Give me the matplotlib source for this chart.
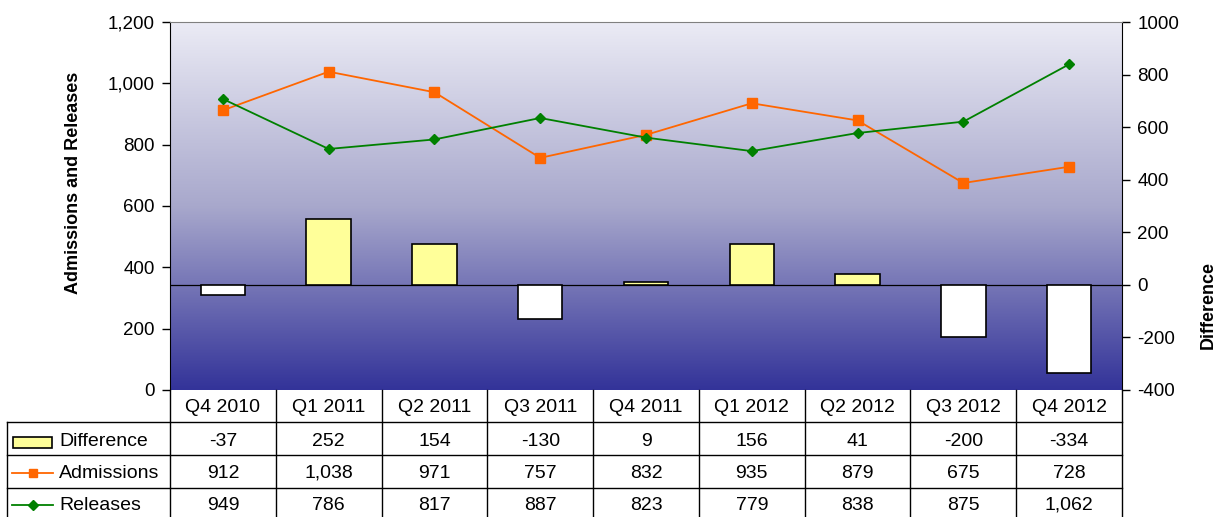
import numpy as np
import matplotlib
matplotlib.use("Agg")
import matplotlib.pyplot as plt
from matplotlib.colors import LinearSegmentedColormap
from matplotlib.patches import Rectangle
from matplotlib.lines import Line2D

plt.rcParams['font.family'] = ['Liberation Sans', 'DejaVu Sans']
plt.rcParams['axes.unicode_minus'] = False

categories = ["Q4 2010", "Q1 2011", "Q2 2011", "Q3 2011", "Q4 2011",
              "Q1 2012", "Q2 2012", "Q3 2012", "Q4 2012"]
difference = [-37, 252, 154, -130, 9, 156, 41, -200, -334]
admissions = [912, 1038, 971, 757, 832, 935, 879, 675, 728]
releases = [949, 786, 817, 887, 823, 779, 838, 875, 1062]

W, H = 1222, 517
fig = plt.figure(figsize=(W / 100, H / 100), dpi=100)
L, R, T, B = 170, 1122, 22, 390
ax = fig.add_axes([L / W, (H - B) / H, (R - L) / W, (B - T) / H])
ax2 = ax.twinx()

n = len(categories)
x = np.arange(n)

ax.set_zorder(2)
ax2.set_zorder(1)
ax.patch.set_visible(False)

# gradient background (on the lower axes)
cmap = LinearSegmentedColormap.from_list("g", ["#EBEBF5", "#A8A8CC", "#333399"])
grad = np.linspace(0, 1, 256).reshape(-1, 1)
ax2.imshow(grad, aspect='auto', cmap=cmap, extent=[0, 1, 0, 1],
           transform=ax2.transAxes, zorder=0, interpolation='bicubic')

ax.set_xlim(-0.5, n - 0.5)
ax2.set_xlim(-0.5, n - 0.5)
ax.set_ylim(0, 1200)
ax2.set_ylim(-400, 1000)

# bars on right axis
bar_colors = ["#FFFF99" if d >= 0 else "white" for d in difference]
ax2.bar(x, difference, width=0.42, color=bar_colors, edgecolor='black',
        linewidth=1.2, zorder=3)
ax2.axhline(0, color='black', linewidth=0.9, zorder=2)

# lines on left axis
ax.plot(x, admissions, color='#FF6600', marker='s', markersize=7,
        linewidth=1.3, zorder=5)
ax.plot(x, releases, color='#008000', marker='D', markersize=5.5,
        linewidth=1.3, zorder=5)

ax.set_yticks(range(0, 1201, 200))
ax.set_yticklabels([f"{v:,}" for v in range(0, 1201, 200)])
ax2.set_yticks(range(-400, 1001, 200))
ax.set_xticks([])
ax2.set_xticks([])
for a in (ax, ax2):
    a.tick_params(axis='y', direction='out', length=6, width=1, labelsize=13.5,
                  colors='black', pad=5)
    for s in a.spines.values():
        s.set_visible(False)
ax.spines['left'].set_visible(True)
ax.spines['left'].set_color('black')
ax2.spines['right'].set_visible(True)
ax2.spines['right'].set_color('black')
ax.spines['top'].set_visible(True)
ax.spines['top'].set_color('#808080')

def fx(px):
    return px / W
def fy(py):
    return 1 - py / H

fig.text(fx(73), fy(183), "Admissions and Releases", rotation=90, ha='center', va='center',
         fontsize=13, fontweight='bold')
fig.text(fx(1208), fy(305), "Difference", rotation=90, ha='center', va='center',
         fontsize=13, fontweight='bold')

# data table drawn in figure pixel space
col_w = (R - L) / n
row_y = [390, 422, 455, 488, 521]
lw = 1.0
lines = []
for yy in row_y[1:4]:
    lines.append(([7, R], [yy, yy]))
for i in range(n + 1):
    xx = L + i * col_w
    lines.append(([xx, xx], [390, 521]))
lines.append(([7, 7], [422, 521]))
for xs, ys in lines:
    fig.add_artist(Line2D([fx(v) for v in xs], [fy(v) for v in ys],
                          color='black', linewidth=lw))

fs = 14
ys_mid = [442, 473, 505]
for i, c in enumerate(categories):
    cx = L + (i + 0.5) * col_w
    fig.text(fx(cx), fy(407), c, ha='center', va='center', fontsize=fs)
    fig.text(fx(cx), fy(ys_mid[0]), f"{difference[i]:,}", ha='center', va='center', fontsize=fs)
    fig.text(fx(cx), fy(ys_mid[1]), f"{admissions[i]:,}", ha='center', va='center', fontsize=fs)
    fig.text(fx(cx), fy(ys_mid[2]), f"{releases[i]:,}", ha='center', va='center', fontsize=fs)

series_names = ["Difference", "Admissions", "Releases"]
fig.add_artist(Rectangle((fx(13), fy(ys_mid[0] + 6)), fx(52) - fx(13), fy(ys_mid[0] - 5) - fy(ys_mid[0] + 6),
                         facecolor='#FFFF99', edgecolor='black', linewidth=1.2))
fig.add_artist(Line2D([fx(12), fx(53)], [fy(ys_mid[1]), fy(ys_mid[1])], color='#FF6600', linewidth=1.3))
fig.add_artist(Line2D([fx(32.5)], [fy(ys_mid[1])], color='#FF6600', marker='s', markersize=6))
fig.add_artist(Line2D([fx(12), fx(53)], [fy(ys_mid[2]), fy(ys_mid[2])], color='#008000', linewidth=1.3))
fig.add_artist(Line2D([fx(32.5)], [fy(ys_mid[2])], color='#008000', marker='D', markersize=5))
for name, ym in zip(series_names, ys_mid):
    fig.text(fx(59), fy(ym), name, ha='left', va='center', fontsize=fs)

fig.savefig("out.png", dpi=100)
